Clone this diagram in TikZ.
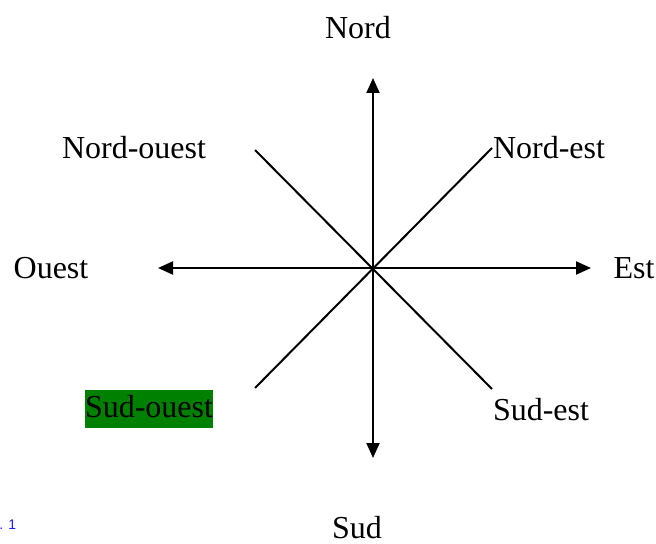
\documentclass[tikz,border=0pt]{standalone}
\usepackage{fontspec}
\setmainfont{Liberation Serif}
\newfontfamily\notefont{Liberation Sans}
\usetikzlibrary{
		arrows.meta,
		positioning
	}
\definecolor{surligne}{RGB}{0,128,0}
\definecolor{renvoi}{RGB}{30,30,250}
\tikzset{
		>={Triangle[length=7.5pt,width=6.5pt]},
		dir/.style={font=\fontsize{16}{19}\selectfont, inner sep=0pt},
		axe/.style={line width=1pt, ->},
		diag/.style={line width=1pt}
	}

\begin{document}
\begin{tikzpicture}[x=0.5pt,y=-0.5pt]
		\useasboundingbox (0,0) rectangle (656,544);
		% centre et extremites
		\coordinate (c) at (373,268);
		\coordinate (n) at (373,78); \coordinate (s) at (373,458);
		\coordinate (o) at (158,268); \coordinate (e) at (591,268);
		\coordinate (no) at (255,150); \coordinate (ne) at (492,148);
		\coordinate (so) at (255,388); \coordinate (se) at (492,389);
		% axes
		\draw[axe] (c) -- (n); \draw[axe] (c) -- (s);
		\draw[axe] (c) -- (o); \draw[axe] (c) -- (e);
		\draw[diag] (no) -- (se); \draw[diag] (ne) -- (so);
		% directions
		\node[dir] (nord) at (358,28) {Nord};
		\node[dir] (sud) at (357,528) {Sud};
		\node[dir] (ouest) at (51,268) {Ouest};
		\node[dir] (est) at (634,268) {Est};
		\node[dir] (nordouest) at (134,148) {Nord-ouest};
		\node[dir] (nordest) at (549,148) {Nord-est};
		\node[dir, fill=surligne, text height=12pt, text depth=4pt, inner ysep=1.5pt] (sudouest) at (149,409) {Sud-ouest};
		\node[dir] (sudest) at (541,410) {Sud-est};
		\node[anchor=base west, inner sep=0pt, text=renvoi, font=\notefont\fontsize{7}{8}\selectfont] (note) at (-1,529) {. 1};
	\end{tikzpicture}
\end{document}
